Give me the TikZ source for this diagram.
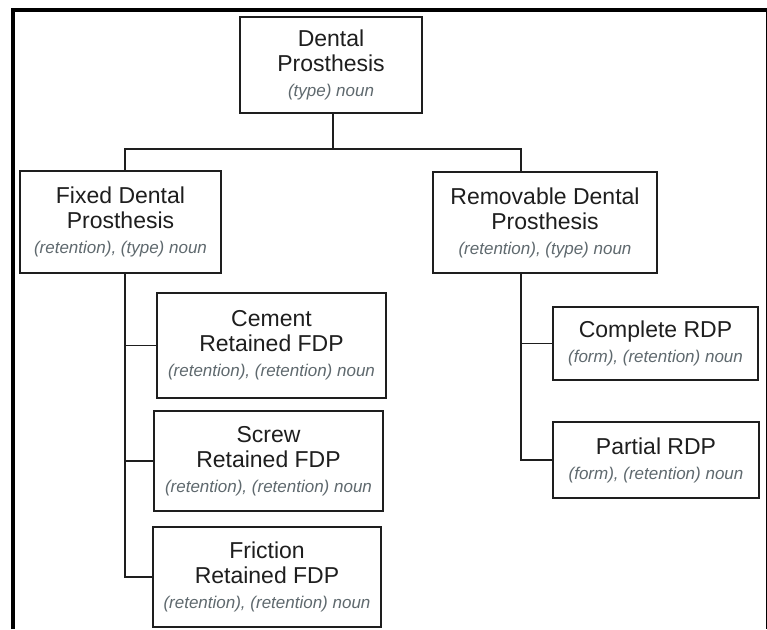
\documentclass[tikz,border=0pt]{standalone}
\usepackage{fontspec}
\setmainfont{Liberation Sans}
\usepackage{xcolor}
\usetikzlibrary{calc}
\definecolor{ink1}{HTML}{1E1E1E}
\definecolor{note1}{HTML}{5F696E}

\tikzset{
  box/.style={draw=ink1, line width=2pt, align=center, inner sep=0pt, text=ink1,
    font=\fontsize{23}{25}\selectfont},
  link/.style={draw=ink1, line width=1.2pt},
}
\newcommand{\notetext}[1]{{\itshape\fontsize{17}{21}\selectfont\color{note1}#1}}

\begin{document}
\begin{tikzpicture}[x=1pt,y=-1pt]
\useasboundingbox (0,0) rectangle (767,629);
\fill[white] (0,0) rectangle (767,629);

\draw[line width=4pt] (13,629) -- (13,10) -- (767,10);
\draw[line width=1pt] (766,10) -- (766,629);

\node[box, minimum width=182pt, minimum height=96pt] (root) at (331,65) {Dental\\Prosthesis\\\notetext{(type) noun}};

\node[box, minimum width=201pt, minimum height=102pt] (fixed) at (120.5,222) {Fixed Dental\\Prosthesis\\\notetext{(retention), (type) noun}};
\node[box, minimum width=224pt, minimum height=101pt] (removable) at (545,222.5) {Removable Dental\\Prosthesis\\\notetext{(retention), (type) noun}};

\node[box, minimum width=229pt, minimum height=105pt] (cement) at (271.5,345.5) {Cement\\Retained FDP\\\notetext{(retention), (retention) noun}};
\node[box, minimum width=229pt, minimum height=100pt] (screw) at (268.5,461) {Screw\\Retained FDP\\\notetext{(retention), (retention) noun}};
\node[box, minimum width=228pt, minimum height=100pt] (friction) at (267,577) {Friction\\Retained FDP\\\notetext{(retention), (retention) noun}};

\node[box, minimum width=205pt, minimum height=73pt] (complete) at (655.5,343.5) {Complete RDP\\\notetext{(form), (retention) noun}};
\node[box, minimum width=206pt, minimum height=76pt] (partial) at (656,460) {Partial RDP\\\notetext{(form), (retention) noun}};

\coordinate (bus) at ($([xshift=2pt]root.south)+(0,35)$);
\draw[link] ([xshift=2pt]root.south) -- (bus);
\draw[link] ([xshift=4.5pt]fixed.north) |- (bus) -| ([xshift=-24pt]removable.north);

\coordinate (fixtrunk) at ([xshift=4.5pt]fixed.south);
\draw[link] (fixtrunk) |- (friction.west);
\draw[link] (cement.west) -- (cement.west -| fixtrunk);
\draw[link] (screw.west) -- (screw.west -| fixtrunk);

\coordinate (remtrunk) at ([xshift=-24pt]removable.south);
\draw[link] (remtrunk) |- (partial.west);
\draw[link] (complete.west) -- (complete.west -| remtrunk);

\end{tikzpicture}
\end{document}
